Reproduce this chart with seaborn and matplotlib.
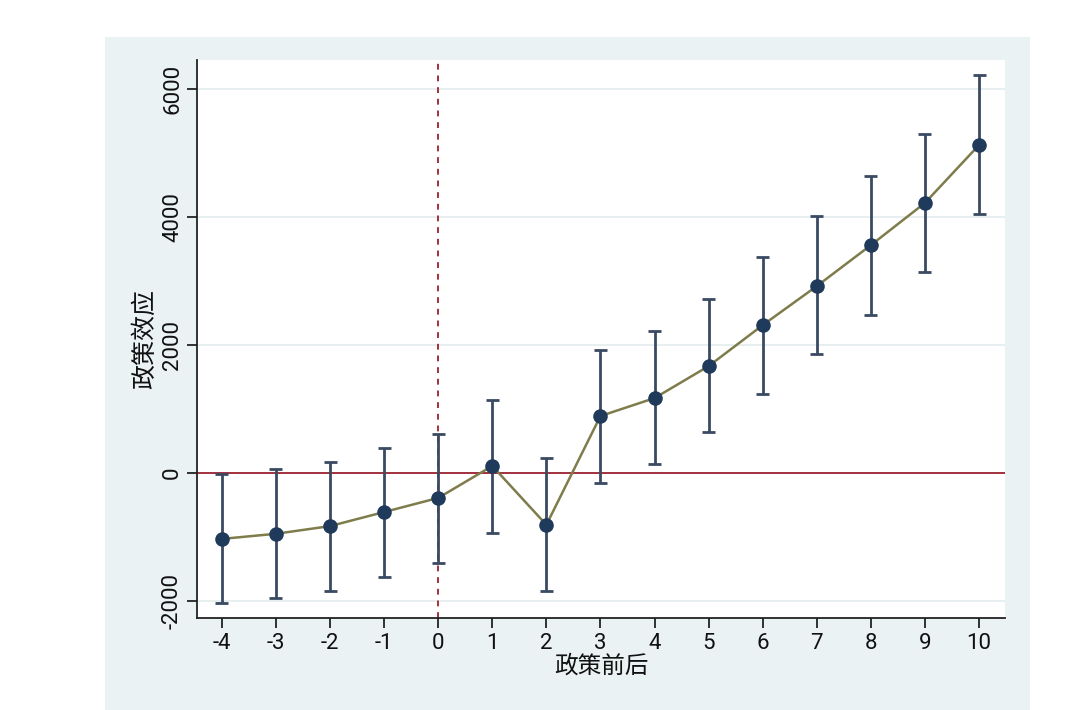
import matplotlib
matplotlib.use("Agg")
import matplotlib.pyplot as plt
from matplotlib.patches import Rectangle
import seaborn as sns
import pandas as pd

periods = [-4, -3, -2, -1, 0, 1, 2, 3, 4, 5, 6, 7, 8, 9, 10]
effect = [-1030, -950, -830, -610, -390, 110, -810, 890, 1170, 1670, 2310, 2920, 3560, 4220, 5125]
ci_low = [-2030, -1950, -1840, -1620, -1400, -940, -1840, -150, 140, 640, 1230, 1860, 2470, 3140, 4050]
ci_high = [-15, 60, 170, 390, 610, 1140, 235, 1920, 2220, 2720, 3375, 4010, 4640, 5290, 6215]
yticks = [-2000, 0, 2000, 4000, 6000]
xlabel = "政策前后"
ylabel = "政策效应"

df = pd.DataFrame({"period": periods, "effect": effect, "lo": ci_low, "hi": ci_high})

sns.set_theme(style="white")
plt.rcParams['font.family'] = ['Roboto', 'Noto Sans CJK SC', 'DejaVu Sans']

fig = plt.figure(figsize=(10.8, 7.1), dpi=100)
fig.patch.set_facecolor("white")
bg = Rectangle((105/1080, 0), (1030-105)/1080, (710-37)/710,
               transform=fig.transFigure, facecolor="#eaf2f3",
               edgecolor="none", zorder=-10)
fig.patches.append(bg)
ax = fig.add_axes([197/1080, (710-618)/710, (1005-197)/1080, (618-60)/710])
ax.set_zorder(5)
ax.set_facecolor("white")

navy = "#1f3a5a"
olive = "#7f7c4c"
maroon = "#a3303e"
ci_col = "#3a4a62"

for y in yticks:
    ax.axhline(y, color="#e6eeef", lw=1.3, zorder=0)
ax.axhline(0, color=maroon, lw=1.4, zorder=1)
ax.axvline(0, color=maroon, lw=1.4, ls=(0, (3, 3)), zorder=1)

ax.vlines(df["period"], df["lo"], df["hi"], color=ci_col, lw=2, zorder=2)
ax.hlines(df["lo"], df["period"] - 0.12, df["period"] + 0.12, color=ci_col, lw=2, zorder=2)
ax.hlines(df["hi"], df["period"] - 0.12, df["period"] + 0.12, color=ci_col, lw=2, zorder=2)

sns.lineplot(data=df, x="period", y="effect", ax=ax, color=olive, lw=1.8, zorder=3)
sns.scatterplot(data=df, x="period", y="effect", ax=ax, color=navy, s=110,
                edgecolor=navy, linewidth=0, zorder=4)

ax.set_xlim(-4.46, 10.48)
ax.set_ylim(-2266, 6453)
ax.set_xticks(periods)
ax.set_xticklabels([str(p) for p in periods])
ax.set_yticks(yticks)
ax.set_yticklabels([str(t) for t in yticks], rotation=90, va="center")

for s in ["top", "right"]:
    ax.spines[s].set_visible(False)
for s in ["left", "bottom"]:
    ax.spines[s].set_color("#222222")
    ax.spines[s].set_linewidth(1.3)
ax.tick_params(axis="both", direction="out", length=7, width=1.3, color="#222222",
               labelsize=16, labelcolor="#111111", pad=4)
ax.tick_params(axis="y", pad=3)
ax.tick_params(left=True, bottom=True)

ax.set_xlabel(xlabel, fontsize=17, labelpad=0, color="#111111")
ax.set_ylabel(ylabel, fontsize=18, labelpad=4, color="#111111")

fig.savefig("out.png", dpi=100)
